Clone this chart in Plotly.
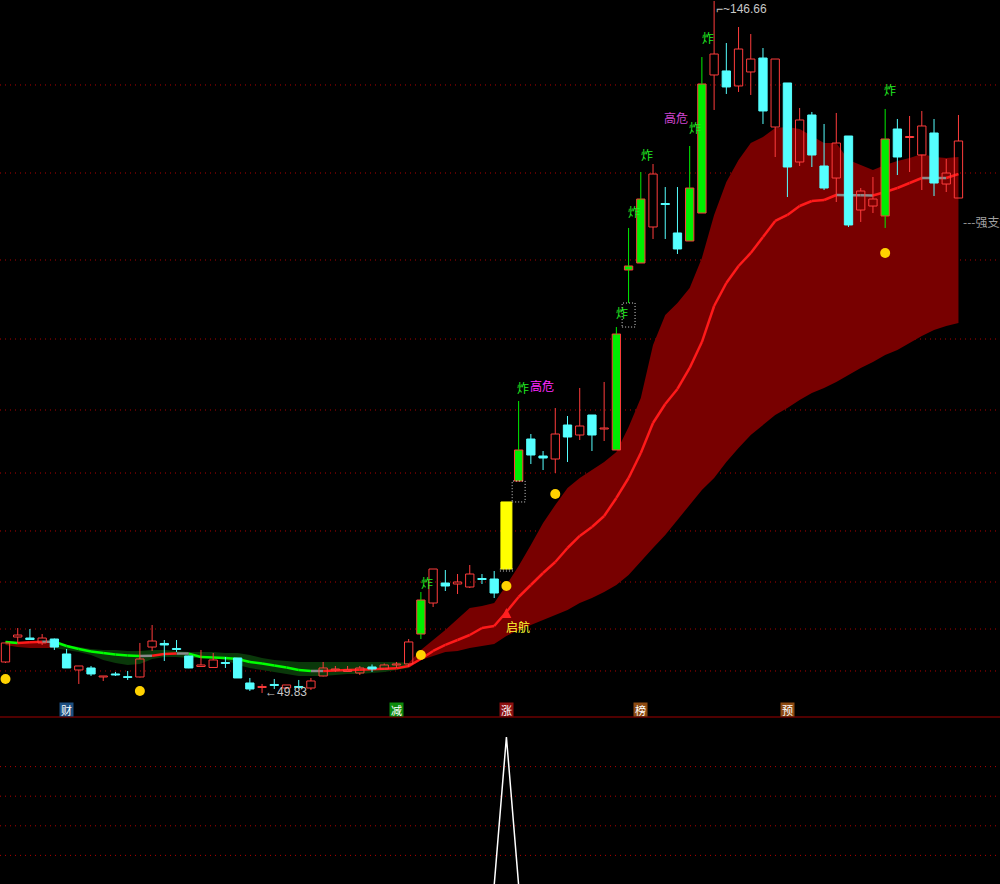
import plotly.graph_objects as go

# ---------------- data ----------------
opens = [54.17, 57.66, 57.52, 56.83, 57.38, 55.29, 53.05, 53.33, 52.07, 52.49,
         52.07, 52.07, 56.26, 56.76, 56.06, 55.01, 53.54, 53.40, 54.10, 54.73,
         51.23, 50.60, 51.02, 50.53, 50.74, 50.53, 52.21, 53.05, 52.84, 52.63,
         53.47, 53.19, 53.75, 53.89, 58.08, 62.42, 65.22, 65.08, 64.66, 65.85,
         65.78, 67.18, 79.49, 85.37, 82.99, 82.57, 87.33, 85.93, 88.73, 86.77,
         83.83, 109.02, 110.00, 115.04, 118.32, 114.20, 113.08, 116.99, 136.31, 136.87,
         134.77, 136.73, 138.68, 129.03, 135.19, 124.13, 130.71, 123.57, 121.89, 127.77,
         117.41, 117.97, 116.58, 128.75, 127.56, 125.11, 128.19, 121.05, 119.09]
highs = [56.83, 58.92, 58.78, 58.08, 57.45, 55.99, 53.61, 53.61, 52.21, 52.77,
         52.91, 56.83, 59.34, 57.24, 57.24, 55.05, 55.85, 55.43, 54.87, 54.73,
         51.93, 51.09, 51.79, 50.95, 51.65, 51.93, 54.17, 53.61, 53.61, 53.61,
         53.82, 53.96, 54.17, 57.38, 63.96, 67.18, 67.04, 66.48, 67.74, 66.48,
         66.90, 76.56, 90.69, 86.07, 83.69, 89.71, 88.59, 92.51, 88.73, 93.35,
         101.04, 114.90, 122.73, 123.85, 120.63, 120.63, 126.37, 138.82, 146.66, 140.78,
         143.02, 142.04, 140.08, 138.54, 135.19, 131.69, 131.13, 129.45, 130.99, 127.77,
         120.49, 122.03, 131.55, 130.15, 130.57, 131.27, 130.15, 124.55, 130.71]
lows = [54.03, 56.83, 57.24, 56.55, 55.85, 53.33, 51.09, 52.21, 51.51, 52.21,
        51.65, 52.00, 55.71, 54.31, 55.57, 53.30, 53.47, 53.33, 53.33, 51.93,
        50.11, 49.83, 50.39, 50.39, 50.39, 50.25, 52.15, 52.77, 52.77, 52.35,
        52.77, 53.15, 53.33, 53.47, 57.38, 61.86, 64.10, 63.68, 64.52, 65.08,
        63.12, 67.18, 79.49, 81.87, 81.03, 80.61, 82.15, 85.23, 83.69, 85.09,
        83.83, 104.40, 110.00, 113.36, 113.36, 111.26, 113.08, 116.99, 131.41, 133.65,
        133.93, 133.51, 129.45, 124.83, 119.23, 123.57, 123.43, 120.21, 118.53, 115.04,
        115.74, 116.99, 114.90, 122.31, 122.73, 120.21, 119.37, 119.93, 119.09]
closes = [56.83, 57.94, 57.31, 57.52, 56.26, 53.33, 53.61, 52.49, 52.21, 52.35,
          52.00, 54.59, 57.10, 56.55, 55.92, 53.33, 53.75, 54.45, 53.96, 51.93,
          50.39, 50.74, 50.88, 50.95, 50.60, 51.51, 53.33, 53.19, 53.05, 53.33,
          53.19, 53.75, 53.89, 56.97, 62.84, 67.18, 64.80, 65.36, 66.48, 65.71,
          63.82, 76.56, 83.83, 83.13, 82.71, 86.07, 85.65, 87.19, 85.93, 86.91,
          100.06, 109.58, 118.95, 122.45, 118.18, 111.96, 120.49, 135.05, 139.24, 134.63,
          139.94, 138.54, 131.27, 138.54, 123.43, 130.01, 125.11, 120.49, 126.79, 115.32,
          120.07, 118.95, 127.35, 124.83, 127.70, 129.17, 121.19, 122.59, 127.07]

signal_idx = [34, 42, 50, 51, 52, 56, 57, 72]      # "炸" candles (green bodies)
limit_up_idx = [41]                                  # yellow limit-up candle
gap_idx = [41, 42, 51]                               # dotted gap boxes

ma_line = [56.97, 56.83, 56.93, 57.00, 57.00, 56.41, 55.99, 55.64, 55.43, 55.22,
           55.08, 55.01, 55.04, 55.29, 55.36, 55.34, 54.87, 54.81, 54.74, 54.59,
           54.17, 53.96, 53.68, 53.40, 53.05, 52.91, 52.91, 52.97, 53.03, 53.09,
           53.15, 53.21, 53.30, 53.61, 54.59, 55.71, 56.55, 57.24, 57.94, 58.92,
           59.20, 61.16, 63.26, 64.94, 66.62, 68.16, 70.12, 71.80, 73.06, 74.60,
           77.12, 79.91, 83.41, 87.61, 90.27, 92.37, 95.31, 98.94, 103.98, 107.20,
           109.58, 111.40, 113.64, 115.88, 116.72, 117.97, 118.67, 118.81, 119.51, 119.49,
           119.47, 119.45, 119.93, 120.49, 121.19, 121.89, 121.89, 121.89, 122.45]
band_hi = [57.10, 56.97, 56.97, 56.97, 56.83, 56.55, 56.26, 55.99, 55.85, 55.85,
           55.71, 55.71, 55.85, 55.85, 55.71, 55.57, 55.57, 55.57, 55.43, 55.43,
           55.15, 54.73, 54.45, 54.31, 54.17, 54.17, 54.17, 54.17, 54.17, 54.17,
           54.17, 54.17, 54.17, 54.03, 55.85, 57.24, 58.64, 60.18, 61.72, 62.00,
           62.42, 64.94, 67.60, 70.54, 73.62, 76.14, 78.51, 79.91, 81.03, 82.15,
           83.55, 87.05, 91.11, 98.52, 102.72, 104.40, 106.50, 110.70, 116.72, 121.33,
           124.41, 126.79, 127.63, 128.89, 129.03, 128.75, 127.77, 126.79, 126.79, 124.41,
           123.71, 123.01, 123.71, 124.27, 124.69, 125.25, 124.83, 124.69, 124.83]
band_lo = [56.55, 56.26, 56.12, 56.12, 56.12, 55.85, 55.57, 55.15, 54.45, 54.03,
           53.75, 53.89, 54.59, 54.87, 54.87, 54.73, 54.73, 54.73, 54.45, 53.75,
           53.33, 53.05, 52.77, 52.49, 52.21, 52.21, 52.21, 52.35, 52.49, 52.49,
           52.63, 52.77, 53.05, 53.33, 54.45, 55.01, 55.57, 55.71, 56.12, 56.41,
           56.69, 57.80, 58.64, 59.34, 60.04, 60.74, 61.44, 62.42, 63.12, 63.96,
           64.94, 66.34, 68.16, 70.12, 71.94, 74.04, 76.14, 78.23, 79.91, 82.15,
           84.11, 85.93, 87.33, 88.73, 89.71, 90.83, 91.81, 92.51, 93.35, 94.33,
           95.31, 96.15, 97.12, 97.82, 98.80, 99.78, 100.62, 101.18, 101.60]
band_runs = [(0, 4, "up"), (4, 33, "down"), (33, 78, "up")]

dot_idx = [0, 11, 34, 41, 45, 72]
dot_price = [51.79, 50.11, 55.15, 64.80, 77.68, 111.40]

zha_x = [34.5, 42.36, 50.46, 51.44, 52.50, 56.43, 57.50, 72.39]
zha_y = [65.29, 92.51, 103.14, 117.14, 125.25, 128.89, 141.62, 134.21]
gaowei_x = [43.95, 54.90]
gaowei_y = [92.86, 130.29]
gaowei_col = ["#ff2bff", "#d046d0"]

grid_prices = [134.91, 122.59, 110.42, 99.36, 89.43, 80.61, 72.50, 65.36, 58.78, 52.91]
sub_grid = [20, 40, 60, 80]
zt_signal = [0] * 41 + [100] + [0] * 37

tag_idx = [5, 32, 41, 52, 64]
tag_text = ["财", "减", "涨", "榜", "预"]
tag_bg = ["#1d4f80", "#0c8a0c", "#8c1010", "#8c4a12", "#8c4a12"]

# ---------------- styles ----------------
UP = "#ff3c3c"
DOWN = "#55ffff"
SIG = "#00ee00"
YEL = "#ffff00"
GRID = "#b00000"
BAND_UP = "#780000"
BAND_DN = "#0a380a"
CJK = "Noto Sans CJK SC"
PRICE_RANGE = [46.47, 146.80]

N = len(opens)
idx = list(range(N))
fig = go.Figure()

# bands (base layer)
for a, b, kind in band_runs:
    xs = idx[a:b + 1]
    fig.add_trace(go.Scatter(
        x=xs + xs[::-1], y=band_hi[a:b + 1] + band_lo[a:b + 1][::-1],
        fill="toself", fillcolor=BAND_UP if kind == "up" else BAND_DN,
        mode="lines", line=dict(width=0), hoverinfo="skip"))

# moving-average line coloured by slope
segs = {"up": ([], []), "down": ([], []), "flat": ([], [])}
for i in range(N - 1):
    d = ma_line[i + 1] - ma_line[i]
    k = "up" if d > 0.05 else ("down" if d < -0.05 else "flat")
    segs[k][0].extend([i, i + 1, None])
    segs[k][1].extend([ma_line[i], ma_line[i + 1], None])
for k, col in (("down", "#00ff00"), ("flat", "#8a8a8a"), ("up", "#ff1a1a")):
    fig.add_trace(go.Scatter(x=segs[k][0], y=segs[k][1], mode="lines",
                             line=dict(color=col, width=2.5), hoverinfo="skip"))

# candle bodies (overlay subplot, drawn above the band)
body = {"up": ([], [], []), "down": ([], [], []), "sig": ([], [], []), "yel": ([], [], [])}
for i in idx:
    o, c = opens[i], closes[i]
    if i in limit_up_idx:
        k = "yel"
    elif i in signal_idx:
        k = "sig"
    else:
        k = "up" if c >= o else "down"
    body[k][0].append(i)
    body[k][1].append(min(o, c))
    body[k][2].append(max(abs(c - o), 0.12))
styles = {"up": ("rgba(0,0,0,0)", UP, 0.68), "down": (DOWN, DOWN, 0.68),
          "sig": (SIG, UP, 0.68), "yel": (YEL, YEL, 0.9)}
for k, (fc, lc, w) in styles.items():
    fig.add_trace(go.Bar(x=body[k][0], base=body[k][1], y=body[k][2], width=w,
                         marker=dict(color=fc, line=dict(color=lc, width=1)),
                         yaxis="y3", hoverinfo="skip"))

# wicks
wick = {"up": ([], []), "down": ([], []), "sig": ([], [])}
for i in idx:
    if i in limit_up_idx:
        continue
    o, h, l, c = opens[i], highs[i], lows[i], closes[i]
    k = "sig" if i in signal_idx else ("up" if c >= o else "down")
    top, bot = max(o, c), min(o, c)
    if h > top:
        wick[k][0].extend([i, i, None]); wick[k][1].extend([top, h, None])
    if l < bot:
        wick[k][0].extend([i, i, None]); wick[k][1].extend([bot, l, None])
for k, col in (("up", UP), ("down", DOWN), ("sig", SIG)):
    fig.add_trace(go.Scatter(x=wick[k][0], y=wick[k][1], mode="lines", yaxis="y3",
                             line=dict(color=col, width=1), hoverinfo="skip"))

# yellow dots
fig.add_trace(go.Scatter(x=dot_idx, y=dot_price, mode="markers", yaxis="y3",
                         marker=dict(color="#ffd200", size=10, line=dict(width=0)),
                         hoverinfo="skip"))

# sub panel spike
fig.add_trace(go.Scatter(x=idx, y=zt_signal, mode="lines", xaxis="x2", yaxis="y2",
                         line=dict(color="white", width=1.5), hoverinfo="skip"))

shapes = []
for p in grid_prices:
    shapes.append(dict(type="line", xref="paper", yref="y", x0=0, x1=1, y0=p, y1=p,
                       line=dict(color=GRID, width=1, dash="1px,4px"), layer="below"))
for p in sub_grid:
    shapes.append(dict(type="line", xref="paper", yref="y2", x0=0, x1=1, y0=p, y1=p,
                       line=dict(color=GRID, width=1, dash="1px,4px"), layer="below"))
SPLIT = 167 / 884
shapes.append(dict(type="line", xref="paper", yref="paper", x0=0, x1=1, y0=SPLIT, y1=SPLIT,
                   line=dict(color="#a00000", width=1)))
for g in gap_idx:
    shapes.append(dict(type="rect", xref="x", yref="y", x0=g - 0.53, x1=g + 0.53,
                       y0=highs[g - 1], y1=lows[g],
                       line=dict(color="#d0d0d0", width=1, dash="1px,2px")))

ann = []
for x, y in zip(zha_x, zha_y):
    ann.append(dict(x=x, y=y, text="炸", showarrow=False, xanchor="center", yanchor="middle",
                    font=dict(family=CJK, size=12, color="#22ee22")))
for x, y, col in zip(gaowei_x, gaowei_y, gaowei_col):
    ann.append(dict(x=x, y=y, text="高危", showarrow=False, xanchor="center", yanchor="middle",
                    font=dict(family=CJK, size=12, color=col)))
ann.append(dict(x=41, y=61.72, ax=0, ay=16, text=" ", showarrow=True, arrowhead=2,
                arrowsize=1, arrowwidth=2, arrowcolor="#ff2020"))
ann.append(dict(x=41.95, y=59.20, text="启航", showarrow=False, xanchor="center",
                yanchor="middle", font=dict(family=CJK, size=12, color="#ffff33")))
hi_i = highs.index(max(highs))
lo_i = lows.index(min(lows))
ann.append(dict(x=hi_i, y=146.80, text="⌐~" + f"{max(highs):.2f}", showarrow=False,
                xanchor="left", yanchor="top",
                font=dict(family="Liberation Sans", size=12, color="#c8c8c8")))
ann.append(dict(x=lo_i + 0.08, y=49.97, text="←" + f"{min(lows):.2f}", showarrow=False,
                xanchor="left", yanchor="middle",
                font=dict(family="Liberation Sans", size=12, color="#c8c8c8")))
ann.append(dict(x=78.2, y=115.81, text="---强支撑", showarrow=False, xanchor="left",
                yanchor="middle", font=dict(family=CJK, size=12, color="#a0a0a0")))
for i, t, bg in zip(tag_idx, tag_text, tag_bg):
    ann.append(dict(x=i, xref="x", y=(884 - 709.5) / 884, yref="paper", text=t,
                    showarrow=False, xanchor="center", yanchor="middle",
                    width=13, height=13, bgcolor=bg, borderpad=0,
                    font=dict(family=CJK, size=11, color="white")))

fig.update_layout(
    width=1000, height=884,
    margin=dict(l=0, r=0, t=0, b=0),
    paper_bgcolor="black", plot_bgcolor="black",
    showlegend=False, barmode="overlay", hovermode=False,
    xaxis=dict(range=[-0.45, 81.40], visible=False, domain=[0, 1]),
    yaxis=dict(range=PRICE_RANGE, visible=False, domain=[SPLIT, 1]),
    yaxis3=dict(range=PRICE_RANGE, visible=False, overlaying="y"),
    xaxis2=dict(range=[-0.45, 81.40], visible=False, domain=[0, 1], anchor="y2"),
    yaxis2=dict(range=[0.68, 113.5], visible=False, domain=[0, SPLIT], anchor="x2"),
    shapes=shapes, annotations=ann,
)

fig.write_html("out.html", config={"displayModeBar": False},
               post_script="document.body.style.margin='0';document.body.style.background='black';")
